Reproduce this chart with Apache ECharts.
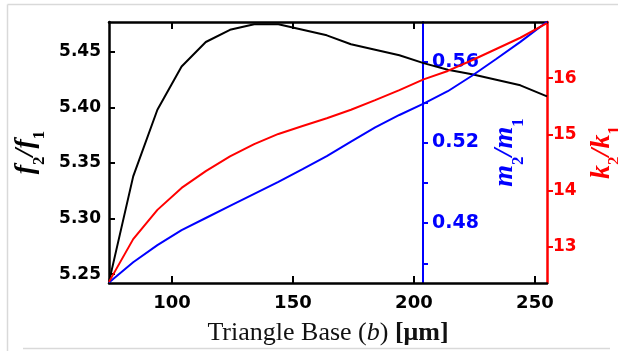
<!DOCTYPE html>
<html>
<head>
<meta charset="utf-8">
<script src="https://cdn.jsdelivr.net/npm/echarts@6/dist/echarts.min.js"></script>
<style>
  html, body { margin: 0; padding: 0; background: #fff; }
  #chart { width: 618px; height: 351px; }
</style>
</head>
<body>
<div id="chart"></div>
<script>
// Triangle base b in micrometres
const baseB = [74, 84, 94, 104, 114, 124, 134, 144, 154, 164, 174, 184, 194, 204, 214, 224, 234, 244, 255];
// Frequency ratio f2/f1 (left axis)
const freqRatio = [5.243, 5.338, 5.398, 5.437, 5.459, 5.470, 5.475, 5.475, 5.470, 5.465, 5.457, 5.452, 5.447, 5.440, 5.434, 5.430, 5.425, 5.420, 5.410];
// Mass ratio m2/m1 (inner right axis)
const massRatio = [0.4505, 0.4605, 0.4690, 0.4765, 0.4825, 0.4885, 0.4945, 0.5005, 0.5068, 0.5133, 0.5205, 0.5275, 0.5337, 0.5393, 0.5455, 0.5532, 0.5615, 0.5700, 0.5800];
// Stiffness ratio k2/k1 (outer right axis)
const stiffRatio = [12.38, 13.14, 13.66, 14.05, 14.35, 14.61, 14.83, 15.01, 15.15, 15.29, 15.44, 15.61, 15.79, 15.98, 16.13, 16.32, 16.52, 16.72, 16.98];

const xTicks = [100, 150, 200, 250];
const fTicks = [5.25, 5.30, 5.35, 5.40, 5.45];
const mTicks = [0.46, 0.48, 0.50, 0.52, 0.54, 0.56];
const mLabels = [0.48, 0.52, 0.56];
const kTicks = [13, 14, 15, 16];

const pair = (xs, ys) => xs.map((x, i) => [x, ys[i]]);

const boldSans = (size) => ({ fontFamily: 'DejaVu Sans', fontWeight: 'bold', fontSize: size });
const serif = 'Liberation Serif';

function ratioName(color) {
  return {
    rich: {
      v: { fontFamily: serif, fontStyle: 'italic', fontWeight: 'bold', fontSize: 28, color },
      s: { fontFamily: serif, fontWeight: 'bold', fontSize: 17, color, verticalAlign: 'bottom', padding: [0, 0, -8, 0] }
    }
  };
}

const chart = echarts.init(document.getElementById('chart'), null, { renderer: 'canvas' });
chart.setOption({
  animation: false,
  backgroundColor: '#ffffff',
  grid: { left: 109, right: 71, top: 22, bottom: 68, outerBoundsMode: 'none' },
  graphic: [
    { type: 'line', shape: { x1: 7.5, y1: 4.5, x2: 618, y2: 4.5 }, style: { stroke: '#d9d9d9', lineWidth: 1.5 } },
    { type: 'line', shape: { x1: 7.5, y1: 4.5, x2: 7.5, y2: 351 }, style: { stroke: '#d9d9d9', lineWidth: 1.5 } },
    { type: 'line', shape: { x1: 23, y1: 348.5, x2: 610, y2: 348.5 }, style: { stroke: '#d9d9d9', lineWidth: 1.5 } }
  ],
  xAxis: [
    {
      type: 'value', position: 'bottom', min: 74, max: 255,
      axisLine: { lineStyle: { color: '#000', width: 2.5 } },
      axisTick: { inside: true, length: 7, lineStyle: { color: '#000', width: 2 }, customValues: xTicks },
      axisLabel: Object.assign({ color: '#000', margin: 11, customValues: xTicks }, boldSans(18)),
      splitLine: { show: false },
      name: '{t|Triangle Base (}{i|b}{t|) }{b|[μm]}',
      nameLocation: 'middle', nameGap: 37,
      nameTextStyle: {
        rich: {
          t: { fontFamily: serif, fontSize: 26, color: '#111' },
          i: { fontFamily: serif, fontSize: 26, fontStyle: 'italic', color: '#111' },
          b: { fontFamily: serif, fontSize: 26, fontWeight: 'bold', color: '#111' }
        }
      }
    },
    {
      type: 'value', position: 'top', min: 74, max: 255,
      axisLine: { lineStyle: { color: '#000', width: 2.5 } },
      axisTick: { inside: true, length: 7, lineStyle: { color: '#000', width: 2 }, customValues: xTicks },
      axisLabel: { show: false },
      splitLine: { show: false }
    }
  ],
  yAxis: [
    {
      type: 'value', position: 'left', min: 5.242, max: 5.477,
      axisLine: { show: true, lineStyle: { color: '#000', width: 2.5 } },
      axisTick: { show: true, inside: true, length: 6, lineStyle: { color: '#000', width: 2 }, customValues: fTicks },
      axisLabel: Object.assign({ color: '#000', margin: 8, formatter: v => v.toFixed(2), customValues: fTicks }, boldSans(17)),
      splitLine: { show: false },
      name: '{v|f}{s|2}{v|/f}{s|1}',
      nameLocation: 'middle', nameRotate: 90, nameGap: 64,
      nameTextStyle: ratioName('#000')
    },
    {
      type: 'value', position: 'right', offset: -124, min: 0.4502, max: 0.5799,
      axisLine: { show: true, lineStyle: { color: '#0000ff', width: 2 } },
      axisTick: { show: true, inside: false, length: 5, lineStyle: { color: '#0000ff', width: 2 }, customValues: mTicks },
      axisLabel: Object.assign({ color: '#0000ff', margin: 9, formatter: v => v.toFixed(2), customValues: mLabels }, boldSans(19)),
      splitLine: { show: false },
      name: '{v|m}{s|2}{v|/m}{s|1}',
      nameLocation: 'middle', nameRotate: 90, nameGap: 68,
      nameTextStyle: ratioName('#0000ff')
    },
    {
      type: 'value', position: 'right', offset: 0, min: 12.36, max: 17.0,
      axisLine: { show: true, lineStyle: { color: '#ff0000', width: 2.5 } },
      axisTick: { show: true, inside: false, length: 6, lineStyle: { color: '#ff0000', width: 2 }, customValues: kTicks },
      axisLabel: Object.assign({ color: '#ff0000', margin: 6, customValues: kTicks }, boldSans(17)),
      splitLine: { show: false },
      name: '{v|k}{s|2}{v|/k}{s|1}',
      nameLocation: 'middle', nameRotate: 90, nameGap: 40,
      nameTextStyle: ratioName('#ff0000')
    }
  ],
  series: [
    {
      type: 'line', xAxisIndex: 0, yAxisIndex: 0, data: pair(baseB, freqRatio),
      symbol: 'none', lineStyle: { color: '#000', width: 2 }, z: 3
    },
    {
      type: 'line', xAxisIndex: 0, yAxisIndex: 1, data: pair(baseB, massRatio),
      symbol: 'none', lineStyle: { color: '#0000ff', width: 2 }, z: 3
    },
    {
      type: 'line', xAxisIndex: 0, yAxisIndex: 2, data: pair(baseB, stiffRatio),
      symbol: 'none', lineStyle: { color: '#ff0000', width: 2 }, z: 3
    }
  ]
});
</script>
</body>
</html>
